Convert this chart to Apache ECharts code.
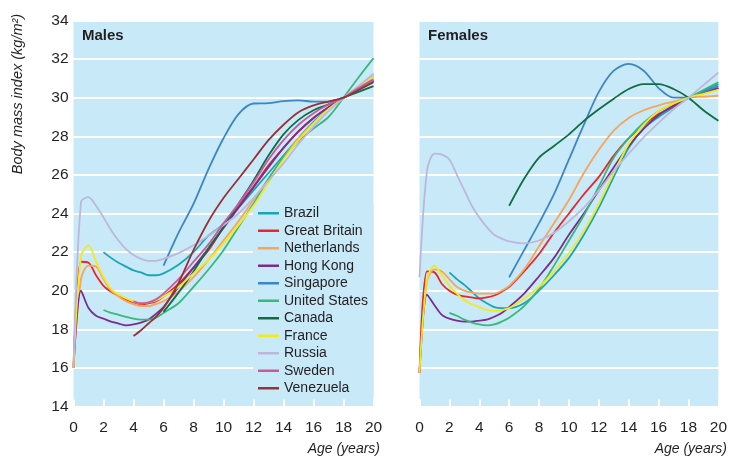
<!DOCTYPE html>
<html>
<head>
<meta charset="utf-8">
<script src="https://cdn.jsdelivr.net/npm/echarts@6/dist/echarts.min.js"></script>
<style>
html,body{margin:0;padding:0;background:#fff;}
#chart{width:730px;height:458px;}
</style>
</head>
<body>
<div id="chart"></div>
<script>
// ---------- data ----------
var ages = [0,0.5,1,1.5,2,2.5,3,3.5,4,4.5,5,5.5,6,7,8,9,10,11,12,13,14,15,16,17,18,19,20];
var yTicksMin = 14, yTicksMax = 34, yStep = 2;
var xTicksMin = 0, xTicksMax = 20, xStep = 2;

var countries = ['Brazil','Great Britain','Netherlands','Hong Kong','Singapore','United States','Canada','France','Russia','Sweden','Venezuela'];
var colors = ['#1aa5b5','#e8262d','#f7a55a','#7b2d8e','#3d86c6','#3ab77a','#0e6e42','#f2ea1c','#bdb7da','#c75ba0','#963237'];

// Males
var mBrazil      = [null,null,null,null,22.0,21.7,21.45,21.25,21.05,20.95,20.8,20.8,20.9,21.35,22.0,22.85,23.45,24.3,25.2,26.1,27.0,27.9,28.75,29.4,30,30.55,31.1];
var mBritain     = [16,21.5,21.45,20.8,20.25,19.95,19.75,19.55,19.4,19.3,19.35,19.45,19.7,20.35,21.2,22.1,23.3,24.4,25.4,26.5,27.4,28.25,28.95,29.5,30,30.5,30.9];
var mNetherlands = [16,20.6,21.3,21.25,20.6,20.0,19.7,19.45,19.3,19.2,19.2,19.3,19.45,19.95,20.7,21.6,22.6,23.6,24.7,25.8,26.9,27.9,28.7,29.4,30,30.6,31.2];
var mHongKong    = [16,20.0,19.1,18.7,18.55,18.4,18.3,18.2,18.25,18.35,18.5,18.8,19.15,20.2,21.2,22.2,23.25,24.3,25.35,26.4,27.4,28.25,28.95,29.5,30,30.45,30.85];
var mSingapore   = [null,null,null,null,null,null,null,null,null,null,null,null,21.3,23.0,24.5,26.3,27.9,29.15,29.7,29.72,29.82,29.86,29.8,29.8,30,30.4,30.9];
var mUS          = [null,null,null,null,19.0,18.85,18.75,18.65,18.55,18.5,18.5,18.6,18.85,19.35,20.2,21.1,22.1,23.3,24.5,25.8,26.9,27.75,28.4,29.0,30,31.05,32.05];
var mCanada      = [null,null,null,null,null,null,null,null,null,null,null,null,18.9,19.9,21.0,22.2,23.3,24.5,25.7,27.0,28.1,28.85,29.35,29.65,30,30.3,30.6];
var mFrance      = [16,21.8,22.35,21.5,20.7,20.1,19.8,19.6,19.45,19.35,19.4,19.5,19.7,20.2,20.9,21.6,22.45,23.4,24.4,25.6,26.8,27.8,28.65,29.4,30,30.55,31.1];
var mRussia      = [16,24.6,24.85,24.4,23.8,23.15,22.6,22.15,21.85,21.65,21.55,21.55,21.65,21.95,22.35,22.85,23.4,24.0,24.8,25.7,26.6,27.6,28.5,29.3,30,30.6,31.25];
var mSweden      = [null,null,null,null,null,null,null,null,19.45,19.35,19.4,19.55,19.85,20.6,21.5,22.4,23.5,24.5,25.6,26.8,27.8,28.6,29.2,29.65,30,30.5,30.95];
var mVenezuela   = [null,null,null,null,null,null,null,null,17.65,17.95,18.3,18.65,19.1,20.4,22.1,23.6,24.8,25.8,26.8,27.8,28.6,29.25,29.6,29.8,30,30.4,30.8];

// Females
var fBrazil      = [null,null,null,null,20.95,20.6,20.3,19.95,19.6,19.35,19.15,19.1,19.1,19.35,20.0,20.8,21.7,22.9,24.3,25.9,27.4,28.4,29.0,29.5,30,30.35,30.7];
var fBritain     = [15.75,21.0,20.95,20.35,20.0,19.8,19.7,19.65,19.6,19.65,19.75,19.95,20.2,21.0,21.9,23.0,24.0,25.0,25.9,27.0,27.9,28.6,29.15,29.55,30,30.25,30.5];
var fNetherlands = [15.75,20.5,21.1,21.0,20.6,20.2,20.0,19.9,19.85,19.85,19.85,20.0,20.25,21.1,22.3,23.5,24.7,26.1,27.3,28.3,28.95,29.35,29.6,29.8,30,30.05,30.1];
var fHongKong    = [15.75,19.8,19.25,18.75,18.55,18.45,18.4,18.4,18.45,18.5,18.65,18.85,19.15,19.85,20.75,21.7,22.9,24.0,25.2,26.4,27.5,28.4,29.1,29.6,30,30.3,30.5];
var fSingapore   = [null,null,null,null,null,null,null,null,null,null,null,null,20.7,22.1,23.5,25.0,26.8,28.6,30.3,31.4,31.75,31.4,30.5,30.0,30.0,30.3,30.6];
var fUS          = [null,null,null,null,18.85,18.7,18.5,18.35,18.25,18.2,18.25,18.4,18.6,19.2,20.1,21.3,22.6,23.9,25.4,26.9,27.9,28.7,29.3,29.7,30,30.4,30.8];
var fCanada      = [null,null,null,null,null,null,null,null,null,null,null,null,24.4,25.8,26.9,27.5,28.1,28.8,29.4,29.95,30.45,30.7,30.7,30.45,30.0,29.35,28.8];
var fFrance      = [15.75,20.6,21.3,20.8,20.25,19.85,19.5,19.3,19.15,19.0,18.95,19.0,19.1,19.6,20.2,21.0,21.95,23.1,24.5,26.1,27.6,28.6,29.3,29.7,30,30.2,30.4];
var fRussia      = [20.7,26.2,27.1,27.05,26.8,26.0,25.2,24.4,23.8,23.3,22.9,22.7,22.55,22.45,22.6,23.0,23.6,24.3,25.2,26.2,27.1,27.95,28.7,29.4,30,30.65,31.3];
var fSweden      = null;
var fVenezuela   = null;

var males   = [mBrazil,mBritain,mNetherlands,mHongKong,mSingapore,mUS,mCanada,mFrance,mRussia,mSweden,mVenezuela];
var females = [fBrazil,fBritain,fNetherlands,fHongKong,fSingapore,fUS,fCanada,fFrance,fRussia,fSweden,fVenezuela];

// ---------- styling ----------
var panelColor = '#c8e9f8';
var textColor = '#231f20';
var baseFont = 'Liberation Sans, Arial, Helvetica, sans-serif';

function pairs(vals){
  var out = [];
  for (var i = 0; i < ages.length; i++) {
    if (vals[i] !== null && vals[i] !== undefined) out.push([ages[i], vals[i]]);
  }
  return out;
}

var series = [];
[males, females].forEach(function(panel, g){
  panel.forEach(function(vals, k){
    if (!vals) return;
    series.push({
      name: countries[k],
      type: 'line',
      xAxisIndex: g,
      yAxisIndex: g,
      data: pairs(vals),
      showSymbol: false,
      symbol: 'none',
      smooth: 0.3,
      lineStyle: {width: 1.8, color: colors[k]},
      itemStyle: {color: colors[k]},
      z: 3,
      animation: false
    });
  });
});

function xAxisDef(g){
  return {
    type: 'value', gridIndex: g, min: xTicksMin, max: xTicksMax, interval: xStep,
    axisLine: {show: false},
    axisTick: {show: true, inside: true, length: 7, lineStyle: {color: '#ffffff', width: 2}},
    axisLabel: {color: textColor, fontSize: 15.5, fontFamily: baseFont, margin: 13},
    splitLine: {show: false}
  };
}
function yAxisDef(g){
  return {
    type: 'value', gridIndex: g, min: yTicksMin, max: yTicksMax, interval: yStep,
    axisLine: {show: false},
    axisTick: {show: false},
    axisLabel: {show: g === 0, color: textColor, fontSize: 15.5, fontFamily: baseFont, margin: 5},
    splitLine: {show: true, lineStyle: {color: '#ffffff', width: 2}}
  };
}

var chart = echarts.init(document.getElementById('chart'), null, {renderer: 'canvas'});
chart.setOption({
  animation: false,
  backgroundColor: '#ffffff',
  grid: [
    {left: 73.5, top: 20.5, width: 300, height: 386, show: true, backgroundColor: panelColor, borderWidth: 0},
    {left: 419.5, top: 20.5, width: 300, height: 386, show: true, backgroundColor: panelColor, borderWidth: 0}
  ],
  xAxis: [xAxisDef(0), xAxisDef(1)],
  yAxis: [yAxisDef(0), yAxisDef(1)],
  title: [
    {text: 'Males', left: 82, top: 28, padding: 0, textStyle: {fontSize: 15, fontWeight: 'bold', color: textColor, fontFamily: baseFont}},
    {text: 'Females', left: 428, top: 28, padding: 0, textStyle: {fontSize: 15, fontWeight: 'bold', color: textColor, fontFamily: baseFont}}
  ],
  legend: {
    data: countries,
    orient: 'vertical',
    left: 258, top: 204.5, padding: 0, itemGap: 0,
    itemWidth: 21, itemHeight: 2.5,
    icon: 'rect',
    selectedMode: false,
    textStyle: {fontSize: 14, color: textColor, fontFamily: baseFont, lineHeight: 17.5}
  },
  graphic: [
    {type: 'rect', z: 1, shape: {x: 253, y: 204, width: 120.5, height: 193}, style: {fill: panelColor}, silent: true},
    {type: 'text', z: 5, x: 18, y: 94, rotation: Math.PI / 2,
      style: {text: 'Body mass index (kg/m\u00b2)', fill: textColor, font: 'italic 14.5px Liberation Sans, Arial, sans-serif', textAlign: 'center', textVerticalAlign: 'middle'}},
    {type: 'text', z: 5, x: 380, y: 449,
      style: {text: 'Age (years)', fill: textColor, font: 'italic 14px Liberation Sans, Arial, sans-serif', textAlign: 'right', textVerticalAlign: 'middle'}},
    {type: 'text', z: 5, x: 727, y: 449,
      style: {text: 'Age (years)', fill: textColor, font: 'italic 14px Liberation Sans, Arial, sans-serif', textAlign: 'right', textVerticalAlign: 'middle'}}
  ],
  series: series
});
</script>
</body>
</html>
